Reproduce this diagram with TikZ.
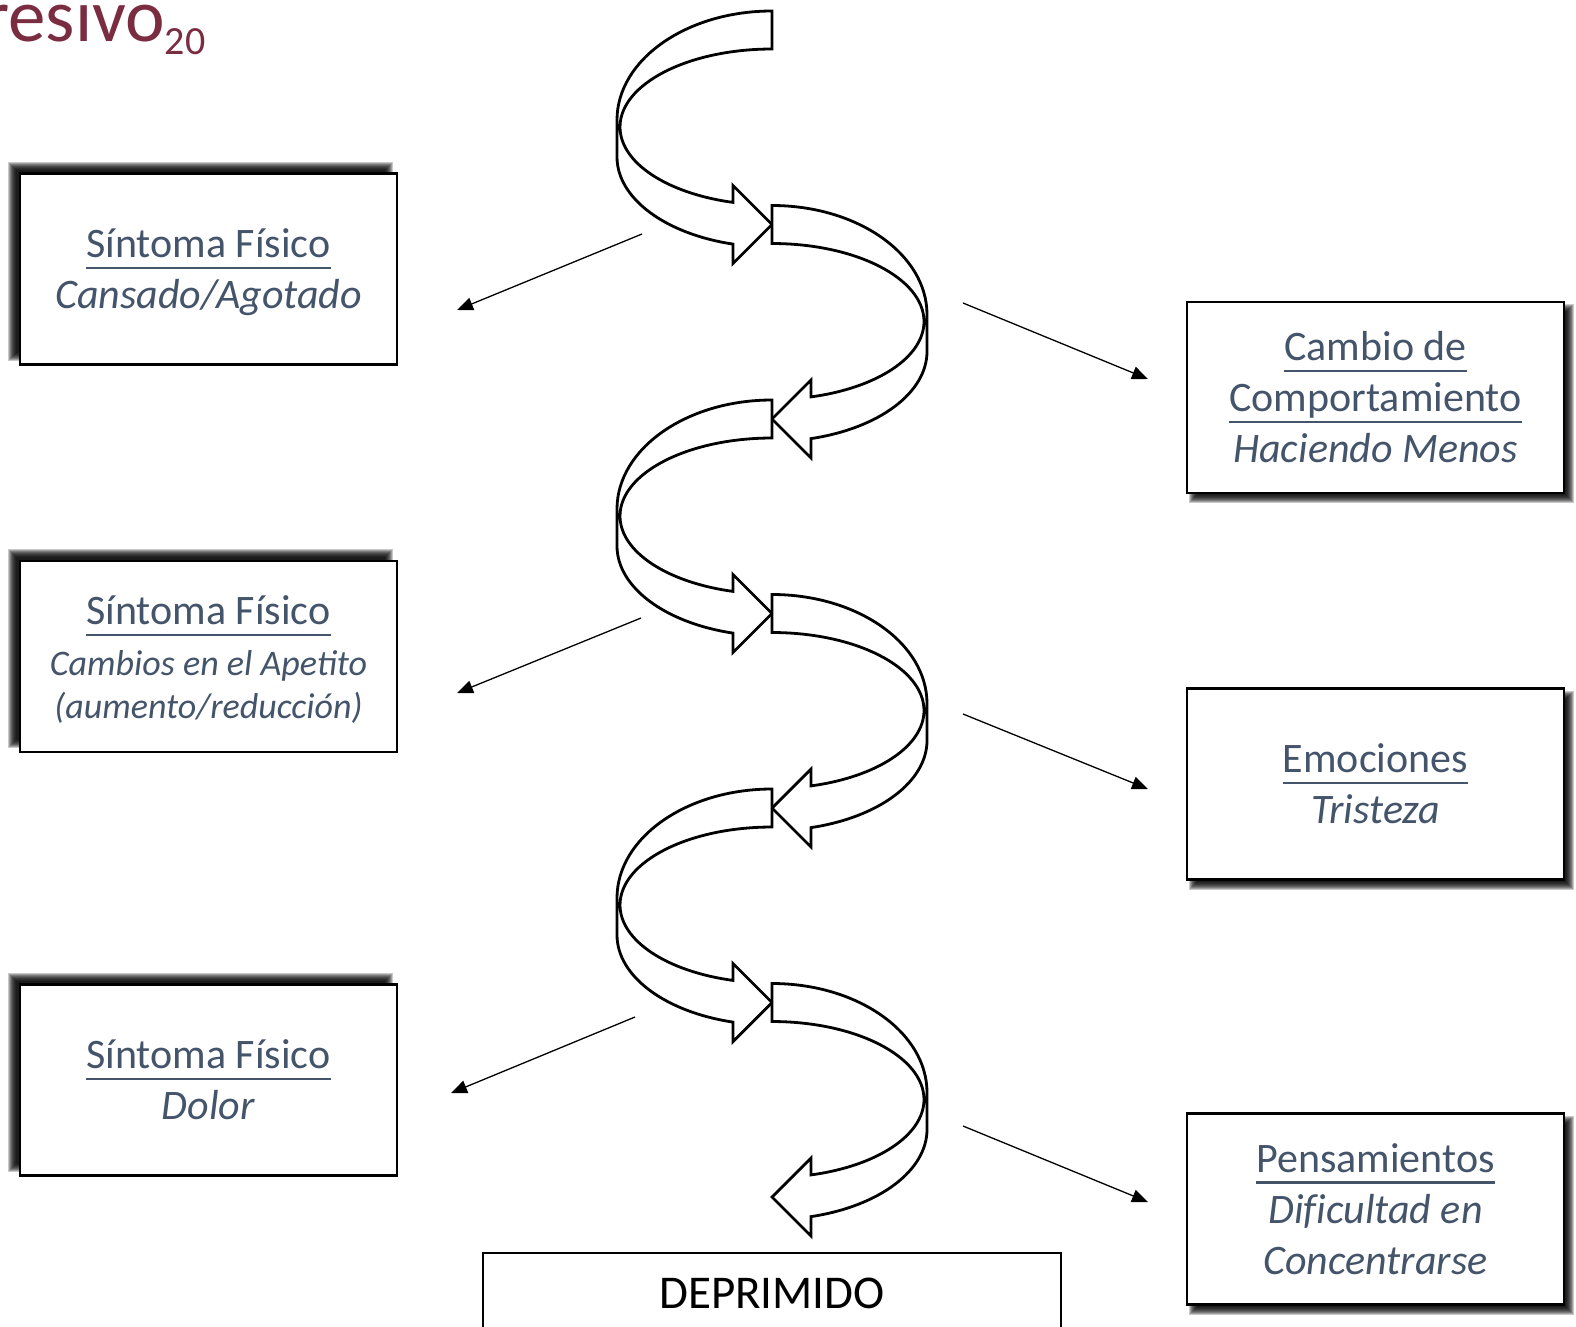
\documentclass[tikz,border=0pt]{standalone}
\usepackage{fontspec}
\setmainfont{Carlito}
\usetikzlibrary{arrows.meta}
\definecolor{txt}{HTML}{44546A}
\definecolor{titlered}{HTML}{7A2C41}
\newcommand\ulx[1]{\leavevmode\setbox0\hbox{#1}\rlap{\rule[-11.5pt]{\wd0}{2.8pt}}\box0}
\newcommand\topstrut{\rule{0pt}{44pt}}
\newcommand\spiralseg{%
  \filldraw[spiral] (0,-19) arc[start angle=270,end angle=180,x radius=155,y radius=109]
    -- (-155,127) arc[start angle=180,end angle=104.6,x radius=155,y radius=90]
    -- (-39,233.5) -- (0,194.5) -- (-39,155.5) -- (-39,172.4)
    arc[start angle=104.87,end angle=180,x radius=152,y radius=78]
    arc[start angle=180,end angle=270,x radius=152,y radius=78]
    -- cycle;}
\newcommand\boxshadow[4]{%
  \foreach \d in {-4,...,4}{%
    \fill[black,opacity=0.21] ({#1-188.5+#3-\d},{#2-95.5+#4-\d}) rectangle ({#1+188.5+#3+\d},{#2+95.5+#4+\d});}}
\tikzset{
  spiral/.style={draw=black, fill=white, line width=2.8, line join=miter},
  infobox/.style={draw=black, line width=2.5, fill=white, minimum width=377, minimum height=191,
    inner sep=0, align=center, text=txt, font=\fontsize{42}{51}\selectfont},
  depbox/.style={draw=black, line width=1.5, fill=white, minimum width=578, minimum height=88,
    inner sep=0, font=\fontsize{47}{55}\selectfont},
  thinarrow/.style={draw=black, line width=1.3, -{Triangle[length=16,width=13]}}
}
\begin{document}
\begin{tikzpicture}[x=1pt,y=-1pt]
\path[use as bounding box, fill=white] (0,0) rectangle (1576,1327);

% title fragment
\node[anchor=base west, inner sep=0, text=titlered] (title) at (-17,42)
  {\fontsize{75}{80}\selectfont resivo\raisebox{-13pt}{\fontsize{40}{44}\selectfont 20}};

% spiral arrows
\foreach \k in {0,...,5}{%
  \pgfmathsetmacro\sx{1-2*mod(\k,2)}
  \begin{scope}[shift={(772,30+\k*194.5)}, xscale=\sx]
    \spiralseg
  \end{scope}
}

% shadows
\boxshadow{208.5}{269}{-8}{-8}
\boxshadow{208.5}{656.5}{-8}{-8}
\boxshadow{208.5}{1080}{-8}{-8}
\boxshadow{1375.5}{397.5}{6}{6}
\boxshadow{1375.5}{784}{6}{6}
\boxshadow{1375.5}{1209}{6}{6}

% boxes
\node[infobox] (sf1) at (208.5,269) {\ulx{Síntoma Físico}\topstrut\\\textit{Cansado/Agotado}\strut};
\node[infobox] (sf2) at (208.5,656.5) {\ulx{Síntoma Físico}\topstrut\\{\fontsize{36}{44}\selectfont\itshape Cambios en el Apetito\strut}\\[-8pt]{\fontsize{36}{44}\selectfont\itshape (aumento/reducción)\strut}};
\node[infobox] (sf3) at (208.5,1080) {\ulx{Síntoma Físico}\topstrut\\\textit{Dolor}\strut};
\node[infobox] (cc) at (1375.5,397.5) {\ulx{Cambio de}\topstrut\\\ulx{Comportamiento}\strut\\\textit{Haciendo Menos}\strut};
\node[infobox] (em) at (1375.5,784) {\ulx{Emociones}\topstrut\\\textit{Tristeza}\strut};
\node[infobox] (pe) at (1375.5,1209) {\ulx{Pensamientos}\topstrut\\\textit{Di\mbox{f}icultad en}\strut\\\textit{Concentrarse}\strut};
\node[depbox] (dep) at (772,1297) {DEPRIMIDO\strut};

% thin arrows
\coordinate (a1s) at (642,234);  \coordinate (a1e) at (457,310);
\coordinate (a2s) at (641,618);  \coordinate (a2e) at (457,693);
\coordinate (a3s) at (635,1017); \coordinate (a3e) at (451,1093);
\coordinate (b1s) at (963,303);  \coordinate (b1e) at (1148,379);
\coordinate (b2s) at (963,714);  \coordinate (b2e) at (1148,789);
\coordinate (b3s) at (963,1126); \coordinate (b3e) at (1148,1202);
\draw[thinarrow] (a1s) -- (a1e);
\draw[thinarrow] (a2s) -- (a2e);
\draw[thinarrow] (a3s) -- (a3e);
\draw[thinarrow] (b1s) -- (b1e);
\draw[thinarrow] (b2s) -- (b2e);
\draw[thinarrow] (b3s) -- (b3e);
\end{tikzpicture}
\end{document}
